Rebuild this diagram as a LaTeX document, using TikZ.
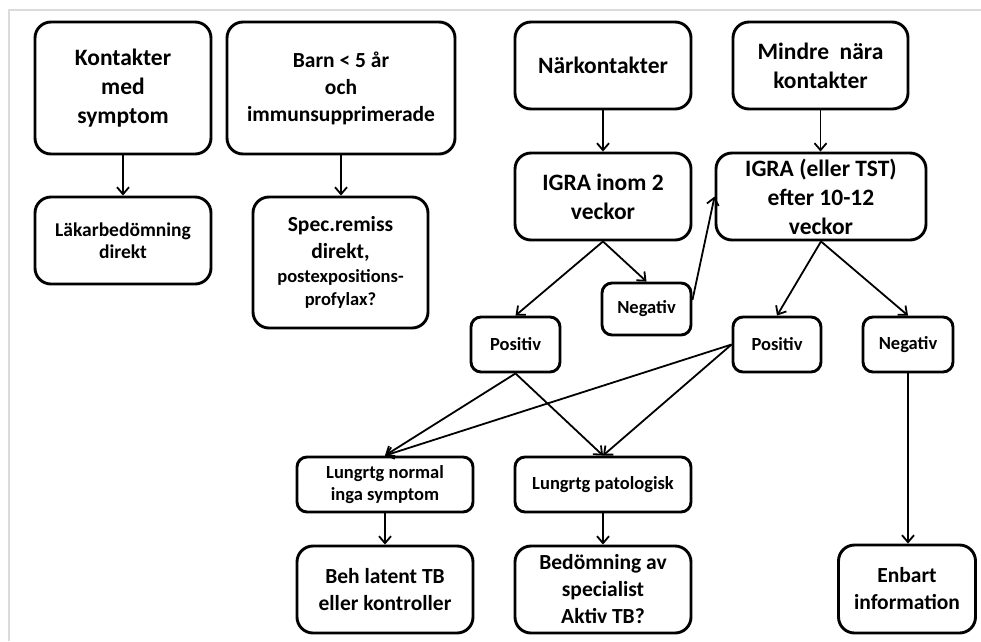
\documentclass[tikz,border=0pt]{standalone}
\usepackage{fontspec}
\setmainfont{Carlito}
\usetikzlibrary{arrows.meta}

\tikzset{
  box/.style={draw, line width=2.9pt, rounded corners=16pt, align=center,
    inner sep=0pt, font=\bfseries},
  smallbox/.style={box, rounded corners=10pt},
  big/.style={font=\bfseries\fontsize{23.5}{29}\selectfont},
  mid/.style={font=\bfseries\fontsize{21.5}{27}\selectfont},
  small/.style={font=\bfseries\fontsize{18.5}{21.5}\selectfont},
  arr/.style={line width=1.8pt, -{Straight Barb[length=7pt,width=12pt]}},
}

\begin{document}
\begin{tikzpicture}[x=1pt, y=-1pt]
  \useasboundingbox (0,0) rectangle (981,641);
  % light frame
  \draw[black!14, line width=2pt] (9,641) -- (9,10) -- (981,10);

  % first column
  \node[box, big, minimum width=176pt, minimum height=132pt] (symp) at (123,88)
    {Kontakter\\med\\symptom};
  \node[box, font=\bfseries\fontsize{19.5}{22}\selectfont, minimum width=176pt, minimum height=87pt] (lak) at (123,240.5)
    {Läkarbedömning\\direkt};

  % second column
  \node[box, mid, minimum width=228pt, minimum height=132pt] (barn) at (341,88)
    {Barn < 5 år\\och\\immunsupprimerade};
  \node[box, mid, minimum width=175pt, minimum height=131pt] (spec) at (340.5,262.5)
    {Spec.remiss\\direkt,\\[-3pt]\fontsize{18.5}{20}\selectfont postexpositions-\\[-4pt]\fontsize{18.5}{20}\selectfont profylax?};

  % close contacts
  \node[box, big, minimum width=176pt, minimum height=87pt] (nar) at (603,65.5)
    {Närkontakter};
  \node[box, big, minimum width=176pt, minimum height=87pt] (igra) at (603,196.5)
    {IGRA inom 2\\veckor};
  \node[smallbox, small, minimum width=89pt, minimum height=52pt] (neg1) at (646.5,309)
    {Negativ};
  \node[smallbox, small, minimum width=89pt, minimum height=55pt] (pos1) at (515.5,344.5)
    {Positiv};

  % less close contacts
  \node[box, big, minimum width=175pt, minimum height=87pt] (mindre) at (820.5,65.5)
    {Mindre\ \ nära\\kontakter};
  \node[box, big, minimum width=210pt, minimum height=87pt] (igra2) at (821,196.5)
    {IGRA (eller TST)\\efter 10-12\\veckor};
  \node[smallbox, small, minimum width=88pt, minimum height=55pt] (pos2) at (777,344.5)
    {Positiv};
  \node[smallbox, small, minimum width=90pt, minimum height=55pt] (neg2) at (908,344.5)
    {Negativ};

  % chest x-ray outcomes
  \node[smallbox, small, minimum width=176pt, minimum height=55pt] (lnorm) at (385,484.5)
    {Lungrtg normal\\inga symptom};
  \node[smallbox, small, minimum width=176pt, minimum height=55pt] (lpat) at (603,484.5)
    {Lungrtg patologisk};
  \node[box, mid, minimum width=176pt, minimum height=87pt] (beh) at (385,589.5)
    {Beh latent TB\\eller kontroller};
  \node[box, mid, minimum width=176pt, minimum height=87pt] (bed) at (603,589.5)
    {Bedömning av\\specialist\\Aktiv TB?};
  \node[box, mid, minimum width=137pt, minimum height=88pt] (enb) at (907,589)
    {Enbart\\information};

  % connectors
  \draw[arr] (symp) -- (lak);
  \draw[arr] (barn) -- (barn.south |- spec.north);
  \draw[arr] (nar) -- (igra);
  \draw[arr] (mindre) -- (mindre.south |- igra2.north);
  \draw[arr] (igra.south) -- (pos1.north);
  \draw[arr] (igra.south) -- (neg1.north);
  \draw[arr] ([yshift=9pt]neg1.east) -- (igra2.west);
  \draw[arr] (igra2.south) -- (pos2.north);
  \draw[arr] (igra2.south) -- (neg2.north);
  \draw[arr] (neg2.south) -- (neg2.south |- enb.north);
  \draw[arr] (pos1.south) -- (lnorm.north);
  \draw[arr] (pos1.south) -- (lpat.north);
  \draw[arr] (pos2.west) -- (lnorm.north);
  \draw[arr] (pos2.west) -- (lpat.north);
  \draw[arr] (lnorm) -- (beh);
  \draw[arr] (lpat) -- (bed);
\end{tikzpicture}
\end{document}
